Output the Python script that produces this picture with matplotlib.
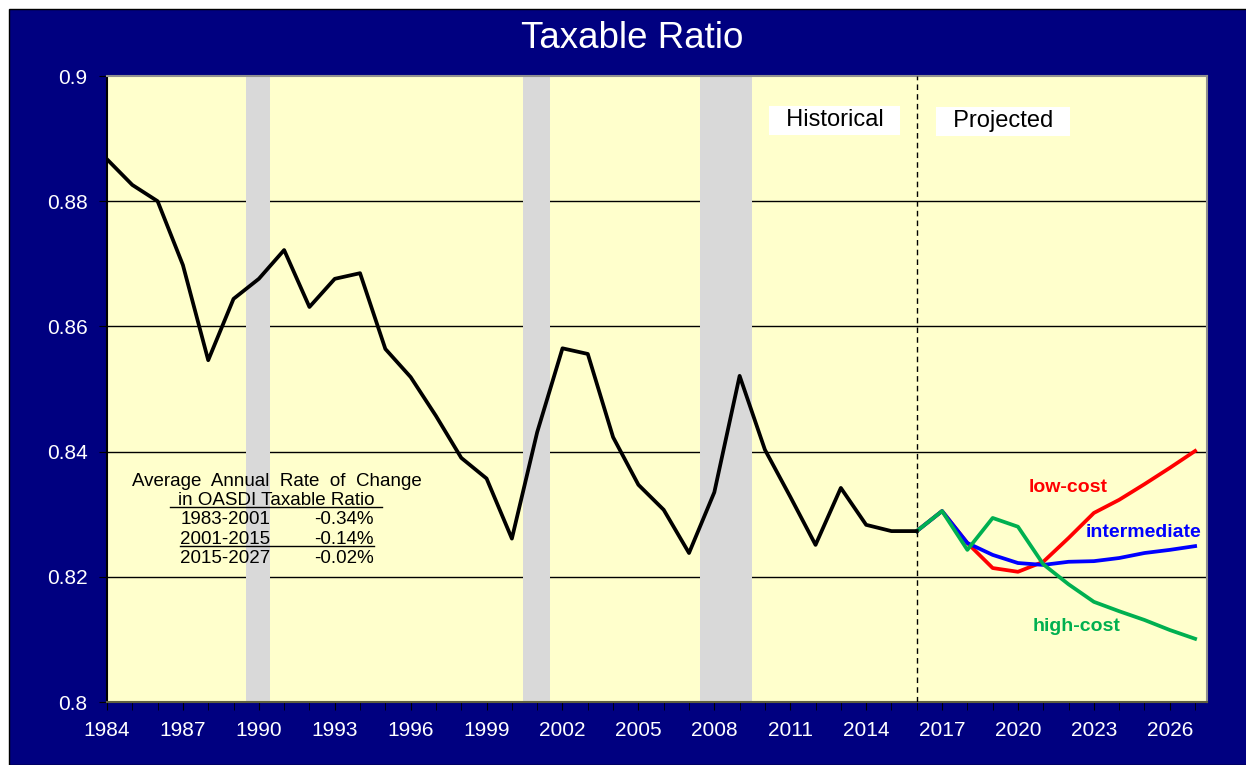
import numpy as np
import matplotlib
matplotlib.use('Agg')
import matplotlib.pyplot as plt
from matplotlib.patches import Rectangle

plt.rcParams['font.family'] = ['Liberation Sans', 'DejaVu Sans']

# historical taxable ratio, 1984-2016
hist_years = list(range(1984, 2017))
hist_vals = [0.8867, 0.8826, 0.8800, 0.8698, 0.8546, 0.8644, 0.8676, 0.8722,
             0.8631, 0.8676, 0.8685, 0.8564, 0.8519, 0.8457, 0.8390, 0.8357,
             0.8261, 0.8431, 0.8565, 0.8556, 0.8423, 0.8347, 0.8307, 0.8238,
             0.8335, 0.8521, 0.8403, 0.8328, 0.8251, 0.8342, 0.8283, 0.8273,
             0.8273]

# projections, 2016-2027
proj_years = list(range(2016, 2028))
low_cost = [0.8273, 0.8305, 0.8254, 0.8214, 0.8208, 0.8224, 0.8262, 0.8302,
            0.8323, 0.8348, 0.8374, 0.8401]
intermediate = [0.8273, 0.8305, 0.8254, 0.8235, 0.8222, 0.8219, 0.8224, 0.8225,
                0.8230, 0.8238, 0.8243, 0.8249]
high_cost = [0.8273, 0.8305, 0.8243, 0.8294, 0.8280, 0.8220, 0.8188, 0.8160,
             0.8145, 0.8131, 0.8115, 0.8101]

# recession shading (start, end)
recessions = [(1989.5, 1990.45), (2000.45, 2001.5), (2007.45, 2009.47)]

fig = plt.figure(figsize=(12.46, 7.65), dpi=100)
fig.patch.set_facecolor('white')
bg = Rectangle((9 / 1246, 0), 1, 1 - 9 / 765, transform=fig.transFigure,
               facecolor='#000080', edgecolor='black', linewidth=1.0, zorder=-5)
fig.add_artist(bg)

ax = fig.add_axes([107 / 1246, 1 - 702 / 765, 1100 / 1246, 626 / 765])
ax.set_zorder(1)
ax.set_facecolor('#FFFFCC')

for y in [0.82, 0.84, 0.86, 0.88]:
    ax.axhline(y, color='black', lw=1.0, zorder=1)
for start, end in recessions:
    ax.axvspan(start, end, color='#D9D9D9', lw=0, zorder=2)

ax.axvline(2016, color='black', lw=1.0, ls=(0, (4, 3)), zorder=3)

ax.plot(proj_years, low_cost, color='#FF0000', lw=2.7, zorder=4)
ax.plot(proj_years, intermediate, color='#0000FF', lw=2.7, zorder=5)
ax.plot(proj_years, high_cost, color='#00B050', lw=2.7, zorder=6)
ax.plot(hist_years, hist_vals, color='black', lw=2.7, zorder=7)

ax.set_xlim(1984, 2027.47)
ax.set_ylim(0.8, 0.9)
ax.set_xticks(range(1984, 2027, 3))
ax.set_xticks(range(1984, 2028), minor=True)
ax.set_yticks([0.8, 0.82, 0.84, 0.86, 0.88, 0.9])
ax.set_yticklabels(['0.8', '0.82', '0.84', '0.86', '0.88', '0.9'])
ax.tick_params(axis='x', which='both', direction='out', length=6, color='black',
               labelcolor='white', labelsize=15, pad=8)
ax.tick_params(axis='y', direction='out', length=6, color='black',
               labelcolor='white', labelsize=15, pad=8)
ax.spines['left'].set_color('black')
ax.spines['top'].set_color('#909090')
ax.spines['right'].set_color('#909090')
ax.spines['bottom'].set_color('#606040')
for s in ax.spines.values():
    s.set_linewidth(1.5)

fig.text(632 / 1246, 1 - 39 / 765, 'Taxable Ratio', color='white', fontsize=26.5,
         ha='center', va='center')

box = dict(facecolor='white', edgecolor='none', boxstyle='square,pad=0.15')
ax.text(2012.75, 0.8929, '  Historical  ', fontsize=17, ha='center', va='center',
        bbox=box, zorder=8)
ax.text(2019.4, 0.8928, '  Projected  ', fontsize=17, ha='center', va='center',
        bbox=box, zorder=8)

ax.text(2022.0, 0.8342, 'low-cost', color='#FF0000', fontsize=14, fontweight='bold',
        ha='center', va='center', zorder=8)
ax.text(2024.95, 0.8270, 'intermediate', color='#0000FF', fontsize=14, fontweight='bold',
        ha='center', va='center', zorder=8)
ax.text(2022.3, 0.8121, 'high-cost', color='#00B050', fontsize=14, fontweight='bold',
        ha='center', va='center', zorder=8)

# rate of change note
note_rows = [('1983-2001', '-0.34%', False), ('2001-2015', '-0.14%', True),
             ('2015-2027', '-0.02%', False)]
tx = 1990.7
ax.text(tx, 0.8352, 'Average  Annual  Rate  of  Change', fontsize=13.5, ha='center',
        va='center', zorder=8)
ax.text(tx, 0.8322, 'in OASDI Taxable Ratio', fontsize=13.5, ha='center', va='center',
        zorder=8)
ax.plot([1986.5, 1994.85], [0.8311, 0.8311], color='black', lw=1.0, zorder=8)
for i, (period, rate, underline) in enumerate(note_rows):
    yy = 0.8291 - i * 0.0031
    ax.text(1986.9, yy, period, fontsize=13.5, ha='left', va='center', zorder=8)
    ax.text(1994.55, yy, rate, fontsize=13.5, ha='right', va='center', zorder=8)
    if underline:
        ax.plot([1986.9, 1994.55], [yy - 0.0011, yy - 0.0011], color='black', lw=1.0,
                zorder=8)

fig.savefig('out.png', dpi=100, facecolor=fig.get_facecolor())
